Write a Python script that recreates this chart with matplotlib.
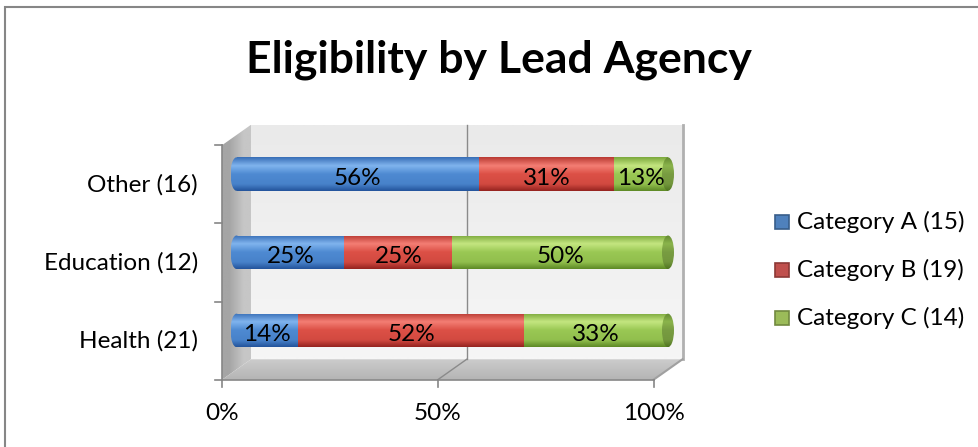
import numpy as np
import matplotlib
matplotlib.use("Agg")
import matplotlib.pyplot as plt
from matplotlib.patches import Rectangle, Ellipse, Polygon

plt.rcParams['font.family'] = ['Lato', 'DejaVu Sans']

# ---------------- data ----------------
agencies = ["Health (21)", "Education (12)", "Other (16)"]
series_names = ["Category A (15)", "Category B (19)", "Category C (14)"]
cat_a = [3, 3, 9]
cat_b = [11, 3, 5]
cat_c = [7, 6, 2]
x_ticks = [0, 0.5, 1.0]
x_tick_labels = ["0%", "50%", "100%"]
title = "Eligibility by Lead Agency"

# ---------------- styles ----------------
series_colors = [
    dict(light=(128, 180, 238), base=(78, 138, 210), dark=(36, 84, 156), legend="#4F81BD", ledge="#385D8A"),
    dict(light=(244, 126, 116), base=(220, 80, 70), dark=(150, 36, 32), legend="#C0504D", ledge="#8C3836"),
    dict(light=(196, 230, 128), base=(154, 200, 84), dark=(94, 138, 38), legend="#9BBB59", ledge="#71893F"),
]

W, H = 979, 447
fig = plt.figure(figsize=(W / 100, H / 100), dpi=100)

# bar plane in pixels
px0, px1 = 236.5, 668.0
py_top, py_bot = 135.0, 369.5
sx = (px1 - px0)            # px per data x unit
sy = (py_bot - py_top) / 3  # px per category

# axes region (pixels) larger than the bar plane so 3D parts are not clipped
ax_l, ax_r, ax_t, ax_b = 190.0, 710.0, 100.0, 440.0
ax = fig.add_axes([ax_l / W, (H - ax_b) / H, (ax_r - ax_l) / W, (ax_b - ax_t) / H])
XL = ((ax_l - px0) / sx, (ax_r - px0) / sx)
YL = (-0.5 + (py_bot - ax_b) / sy, -0.5 + (py_bot - ax_t) / sy)
ax.set_xlim(*XL)
ax.set_ylim(*YL)
ax.axis('off')

DX = 14.5 / sx
DY = 10.25 / sy


def grad_img(c, n=64):
    t = np.linspace(0, 1, n)
    stops = [0.0, 0.25, 0.5, 0.8, 1.0]
    light, base, dark = np.array(c['light']), np.array(c['base']), np.array(c['dark'])
    mid = (base + dark) / 2
    cols = [mid, light, base, base * 0.85 + dark * 0.15, dark]
    out = np.zeros((n, 1, 3))
    for k in range(3):
        out[:, 0, k] = np.interp(t, stops, [cc[k] for cc in cols])
    return np.clip(out / 255.0, 0, 1)


def vgrad(top, bot, n=64):
    t = np.linspace(0, 1, n)
    out = np.zeros((n, 1, 3))
    for k in range(3):
        out[:, 0, k] = top[k] + (bot[k] - top[k]) * t
    return out / 255.0


def fill_img(img, extent, clip_patch, z):
    ax.add_patch(clip_patch)
    clip_patch.set_visible(False)
    im = ax.imshow(img, extent=extent, aspect='auto', origin='upper',
                   interpolation='bilinear', zorder=z)
    im.set_clip_path(clip_patch)
    return im


# ---- walls ----
# back wall
bw = Rectangle((DX, -0.5 + DY), 1, 3)
fill_img(vgrad((234, 234, 234), (246, 246, 246)), (DX, 1 + DX, -0.5 + DY, 2.5 + DY), bw, 0.5)
ax.add_line(plt.Line2D([1 + DX, 1 + DX], [-0.5 + DY, 2.5 + DY], color="#b0b0b0", lw=2.0, zorder=0.6))
# left wall
lw_poly = Polygon([(-DX, -0.5 - DY), (-DX, 2.5 - DY), (DX, 2.5 + DY), (DX, -0.5 + DY)], closed=True)
ax.add_patch(lw_poly)
lw_poly.set_visible(False)
imL = ax.imshow(np.array([[[165, 165, 165], [198, 198, 198]]]) / 255.0,
                extent=(-DX, DX, -0.5 - DY, 2.5 + DY), aspect='auto', interpolation='bilinear', zorder=0.5)
imL.set_clip_path(lw_poly)
# floor
fl = Polygon([(-DX, -0.5 - DY), (1 - DX, -0.5 - DY), (1 + DX, -0.5 + DY), (DX, -0.5 + DY)], closed=True)
ax.add_patch(fl)
fl.set_visible(False)
imF = ax.imshow(vgrad((204, 204, 204), (180, 180, 180)), extent=(-DX, 1 + DX, -0.5 - DY, -0.5 + DY),
                aspect='auto', interpolation='bilinear', zorder=0.5)
imF.set_clip_path(fl)
ax.add_line(plt.Line2D([1 - DX, 1 + DX], [-0.5 - DY, -0.5 + DY], color="#a0a0a0", lw=1.5, zorder=0.6))

# gridline 50%
ax.add_line(plt.Line2D([0.5 + DX, 0.5 + DX], [-0.5 + DY, 2.5 + DY], color="#8a8a8a", lw=1.0, zorder=0.7))
ax.add_line(plt.Line2D([0.5 + DX, 0.5 - DX], [-0.5 + DY, -0.5 - DY], color="#8a8a8a", lw=1.0, zorder=0.7))

# front axes
axis_col = "#868686"
ax.add_line(plt.Line2D([-DX, -DX], [-0.5 - DY, 2.5 - DY], color=axis_col, lw=1.2, zorder=3))
ax.add_line(plt.Line2D([-DX, 1 - DX], [-0.5 - DY, -0.5 - DY], color=axis_col, lw=1.2, zorder=3))
tick_len_x = 7 / sx
tick_len_y = 7 / sy
for b in [-0.5, 0.5, 1.5, 2.5]:
    ax.add_line(plt.Line2D([-DX - tick_len_x, -DX], [b - DY, b - DY], color=axis_col, lw=1.2, zorder=3))
for xt, lab in zip(x_ticks, x_tick_labels):
    ax.add_line(plt.Line2D([xt - DX, xt - DX], [-0.5 - DY, -0.5 - DY - tick_len_y], color=axis_col, lw=1.2, zorder=3))
    ax.text(xt - DX, -0.5 - (414 - py_bot) / sy, lab, ha='center', va='center', fontsize=17.5,
            color='black', clip_on=False)

# category labels
for i, name in enumerate(agencies):
    ax.text(-DX - 24 / sx, i - DY, name, ha='right', va='center', fontsize=17.5, color='black', clip_on=False)

# ---- bars ----
bar_h = 33.5 / sy
cap_w = 12.0 / sx
rows = list(zip(cat_a, cat_b, cat_c))
for i, counts in enumerate(rows):
    total = sum(counts)
    left = 0.0
    for s, cnt in enumerate(counts):
        frac = cnt / total
        c = series_colors[s]
        img = grad_img(c)
        x0, x1 = left, left + frac
        y0, y1 = i - bar_h / 2, i + bar_h / 2
        rect = Rectangle((x0, y0), frac, bar_h)
        fill_img(img, (x0, x1, y0, y1), rect, 2)
        if s == 0:
            el = Ellipse((x0, i), cap_w, bar_h)
            fill_img(img, (x0 - cap_w / 2, x0 + cap_w / 2, y0, y1), el, 2)
        if s == len(counts) - 1:
            el = Ellipse((x1, i), cap_w, bar_h)
            cap_img = grad_img(dict(light=tuple(np.array(c['base']) * 0.9),
                                    base=tuple(np.array(c['base']) * 0.78),
                                    dark=tuple(np.array(c['dark']) * 0.85)))
            fill_img(cap_img, (x1 - cap_w / 2, x1 + cap_w / 2, y0, y1), el, 2.2)
        pct = int(frac * 100 + 0.5)
        ax.text((x0 + x1) / 2, i - 4 / sy, f"{pct}%", ha='center', va='center',
                fontsize=17.5, color='black', zorder=4)
        left = x1

ax.set_xlim(*XL)
ax.set_ylim(*YL)

# ---- title ----
fig.text(499 / W, 1 - 60 / H, title, ha='center', va='center', fontsize=32, fontweight='bold', color='black')

# ---- legend ----
leg_y = [222, 270, 318]
for s, (name, yy) in enumerate(zip(series_names, leg_y)):
    c = series_colors[s]
    sq = 14
    fig.add_artist(Rectangle((775 / W, 1 - (yy + sq / 2) / H), sq / W, sq / H, transform=fig.transFigure,
                             facecolor=c['legend'], edgecolor=c['ledge'], lw=1.2))
    fig.text(797 / W, 1 - yy / H, name, ha='left', va='center', fontsize=17.5, color='black')

# ---- outer border ----
fig.add_artist(Rectangle((5 / W, -0.1), 1.2, 1 - 7 / H + 0.1, transform=fig.transFigure,
                         fill=False, edgecolor="#868686", lw=1.5))

fig.savefig("out.png", dpi=100)
